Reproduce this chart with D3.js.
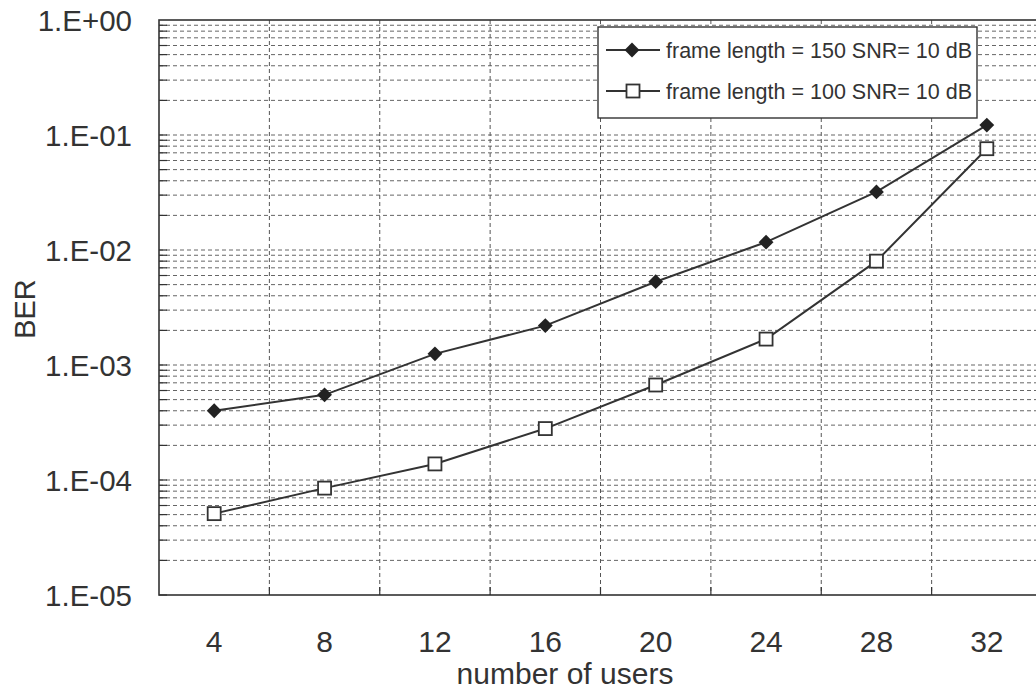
<!DOCTYPE html>
<html>
<head>
<meta charset="utf-8">
<script src="https://cdn.jsdelivr.net/npm/d3@7"></script>
<style>
  body { margin: 0; background: #fff; }
  text { font-family: Arial, "Liberation Sans", sans-serif; fill: #333; }
</style>
</head>
<body>
<div id="chart"></div>
<script>
// number of users (categories)
var users = [4, 8, 12, 16, 20, 24, 28, 32];
// BER values
var ber150 = [4.0e-4, 5.5e-4, 1.25e-3, 2.2e-3, 5.3e-3, 1.17e-2, 3.2e-2, 1.22e-1];
var ber100 = [5.1e-5, 8.5e-5, 1.38e-4, 2.8e-4, 6.7e-4, 1.68e-3, 8.0e-3, 7.6e-2];
var seriesNames = ["frame length = 150 SNR= 10 dB", "frame length = 100 SNR= 10 dB"];
var decades = [1e-5, 1e-4, 1e-3, 1e-2, 1e-1, 1];

var W = 1036, H = 692;
var pLeft = 159, pRight = 1042, pTop = 20, pBottom = 595;
var ink = "#333";

var svg = d3.select("#chart").append("svg")
  .attr("width", W)
  .attr("height", H);

var x = d3.scaleBand().domain(users).range([pLeft, pRight]).padding(0);
var y = d3.scaleLog().domain([1e-5, 1]).range([pBottom, pTop]);

// minor gridlines 1..9 for every decade
var gridVals = [];
for (var e = -5; e < 0; e++) {
  for (var k = 1; k <= 9; k++) {
    gridVals.push(k * Math.pow(10, e));
  }
}

var grid = svg.append("g");
grid.selectAll(".hgrid")
  .data(gridVals.filter(function(d) { return d > 1e-5; }))
  .enter().append("line")
  .attr("class", "hgrid")
  .attr("x1", pLeft).attr("x2", pRight)
  .attr("y1", function(d) { return y(d); })
  .attr("y2", function(d) { return y(d); })
  .style("stroke", "#666")
  .style("stroke-width", 1)
  .style("stroke-dasharray", "4,3");

// vertical gridlines at category boundaries
grid.selectAll(".vgrid")
  .data(users.slice(1))
  .enter().append("line")
  .attr("class", "vgrid")
  .attr("x1", function(d) { return x(d); })
  .attr("x2", function(d) { return x(d); })
  .attr("y1", pTop).attr("y2", pBottom)
  .style("stroke", "#555")
  .style("stroke-width", 1)
  .style("stroke-dasharray", "4,3");

// left minor ticks (inward)
grid.selectAll(".ytick")
  .data(gridVals)
  .enter().append("line")
  .attr("x1", pLeft).attr("x2", pLeft + 8)
  .attr("y1", function(d) { return y(d); })
  .attr("y2", function(d) { return y(d); })
  .style("stroke", ink)
  .style("stroke-width", 1.2);

// bottom ticks at boundaries (inward)
grid.selectAll(".xtick")
  .data(users.slice(1))
  .enter().append("line")
  .attr("x1", function(d) { return x(d); })
  .attr("x2", function(d) { return x(d); })
  .attr("y1", pBottom).attr("y2", pBottom - 8)
  .style("stroke", ink)
  .style("stroke-width", 1.2);

// plot border
svg.append("rect")
  .attr("x", pLeft).attr("y", pTop)
  .attr("width", pRight - pLeft).attr("height", pBottom - pTop)
  .style("fill", "none")
  .style("stroke", ink)
  .style("stroke-width", 1.6);

function fmt(d) {
  var e = Math.round(Math.log10(d));
  var s = e < 0 ? "-" : "+";
  var a = Math.abs(e);
  return "1.E" + s + (a < 10 ? "0" + a : a);
}

// y axis labels
var yAxis = d3.axisLeft(y).tickValues(decades).tickFormat(fmt).tickSize(0).tickPadding(0);
var gy = svg.append("g")
  .attr("transform", "translate(132,0)")
  .call(yAxis);
gy.select(".domain").remove();
gy.selectAll("text")
  .style("font-size", "29.5px")
  .style("fill", ink)
  .attr("dy", "0.35em");

// x axis labels
var xAxis = d3.axisBottom(x).tickSize(0).tickPadding(0);
var gx = svg.append("g")
  .attr("transform", "translate(0,652)")
  .call(xAxis);
gx.select(".domain").remove();
gx.selectAll("text")
  .style("font-size", "30px")
  .style("fill", ink)
  .attr("dy", "0");

// axis titles
svg.append("text")
  .attr("x", 565).attr("y", 684)
  .attr("text-anchor", "middle")
  .style("font-size", "30px")
  .text("number of users");

svg.append("text")
  .attr("transform", "translate(35,309) rotate(-90)")
  .attr("text-anchor", "middle")
  .style("font-size", "29px")
  .text("BER");

// lines
var line = d3.line()
  .x(function(d) { return x(d.u) + x.bandwidth() / 2; })
  .y(function(d) { return y(d.v); });

var data150 = users.map(function(u, i) { return { u: u, v: ber150[i] }; });
var data100 = users.map(function(u, i) { return { u: u, v: ber100[i] }; });

svg.append("path").datum(data100)
  .attr("d", line)
  .style("fill", "none").style("stroke", ink).style("stroke-width", 2);
svg.append("path").datum(data150)
  .attr("d", line)
  .style("fill", "none").style("stroke", ink).style("stroke-width", 2);

var diamond = d3.symbol().type(d3.symbolDiamond2).size(140);

svg.selectAll(".sq")
  .data(data100)
  .enter().append("rect")
  .attr("x", function(d) { return x(d.u) + x.bandwidth() / 2 - 6.5; })
  .attr("y", function(d) { return y(d.v) - 6.5; })
  .attr("width", 13).attr("height", 13)
  .style("fill", "#fff").style("stroke", ink).style("stroke-width", 1.8);

svg.selectAll(".dm")
  .data(data150)
  .enter().append("path")
  .attr("d", diamond)
  .attr("transform", function(d) {
    return "translate(" + (x(d.u) + x.bandwidth() / 2) + "," + y(d.v) + ")";
  })
  .style("fill", "#222");

// legend
var lg = svg.append("g");
lg.append("rect")
  .attr("x", 598).attr("y", 27)
  .attr("width", 379).attr("height", 91)
  .style("fill", "#fff")
  .style("stroke", ink)
  .style("stroke-width", 1.4);

var rows = [50, 91];
seriesNames.forEach(function(name, i) {
  var ry = rows[i];
  lg.append("line")
    .attr("x1", 606).attr("x2", 660)
    .attr("y1", ry).attr("y2", ry)
    .style("stroke", ink).style("stroke-width", 2);
  if (i == 0) {
    lg.append("path")
      .attr("d", diamond)
      .attr("transform", "translate(632," + ry + ")")
      .style("fill", "#222");
  } else {
    lg.append("rect")
      .attr("x", 626.5).attr("y", ry - 6.5)
      .attr("width", 13).attr("height", 13)
      .style("fill", "#fff").style("stroke", ink).style("stroke-width", 1.8);
  }
  lg.append("text")
    .attr("x", 666).attr("y", ry)
    .attr("dy", "0.35em")
    .style("font-size", "21.5px")
    .text(name);
});
</script>
</body>
</html>
